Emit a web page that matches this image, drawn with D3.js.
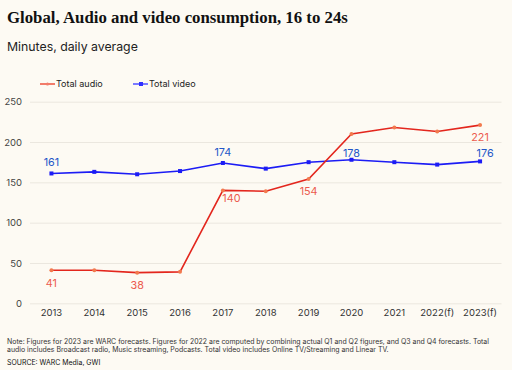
<!DOCTYPE html>
<html><head><meta charset="utf-8">
<script src="https://cdn.jsdelivr.net/npm/d3@7"></script>
<style>
html,body{margin:0;padding:0;background:#fdfaf3;}
svg{display:block;}
</style></head>
<body>
<svg id="c" width="512" height="370"></svg>
<script>
const categories = ["2013","2014","2015","2016","2017","2018","2019","2020","2021","2022(f)","2023(f)"];
const audio = [41, 41, 38, 39, 140, 139, 154, 210, 218, 213, 221];
const video = [161, 163, 160, 164, 174, 167, 175, 178, 175, 172, 176];
const yTicks = [0, 50, 100, 150, 200, 250];
const audioLabels = {"2013":"41","2015":"38","2017":"140","2019":"154","2023(f)":"221"};
const videoLabels = {"2013":"161","2017":"174","2020":"178","2023(f)":"176"};

const svg = d3.select("#c");
const x = d3.scaleBand().domain(categories).range([30, 501.5]);
const cx = d => x(d) + x.bandwidth()/2;
const y = d3.scaleLinear().domain([0, 250]).range([303.3, 101.7]);

// title
svg.append("text").attr("x",7).attr("y",22.5)
  .attr("font-family","Liberation Serif, serif").attr("font-weight","bold")
  .attr("font-size",16.8).attr("fill","#111").text("Global, Audio and video consumption, 16 to 24s");
svg.append("text").attr("x",7).attr("y",51)
  .attr("font-family","Inter, sans-serif").attr("font-size",12.3).attr("fill","#222").text("Minutes, daily average");

// grid
const yAxis = d3.axisLeft(y).tickValues(yTicks).tickSize(-(501.5-30)).tickPadding(8);
const gy = svg.append("g").attr("transform","translate(30,0)").call(yAxis);
gy.select(".domain").remove();
gy.selectAll(".tick line").attr("stroke","#ebe7df").attr("stroke-width",1);
gy.selectAll(".tick text").attr("font-family","Inter, sans-serif").attr("font-size",9.5).attr("fill","#444").attr("x",-8);

const xAxis = d3.axisBottom(x).tickSize(0).tickPadding(6);
const gx = svg.append("g").attr("transform","translate(0,303.3)").call(xAxis);
gx.select(".domain").remove();
gx.selectAll(".tick text").attr("font-family","Inter, sans-serif").attr("font-size",9.5).attr("fill","#333");

// legend
const lg = svg.append("g").attr("font-family","Inter, sans-serif").attr("font-size",9).attr("fill","#222");
lg.append("line").attr("x1",40).attr("x2",55).attr("y1",84).attr("y2",84).attr("stroke","#f27c6a").attr("stroke-width",2);
lg.append("circle").attr("cx",47.5).attr("cy",84).attr("r",1.6).attr("fill","#f27c6a");
lg.append("text").attr("x",56).attr("y",87.3).text("Total audio");
lg.append("line").attr("x1",133).attr("x2",148).attr("y1",84).attr("y2",84).attr("stroke","#7a7aff").attr("stroke-width",2);
lg.append("rect").attr("x",139).attr("y",82).attr("width",4).attr("height",4).attr("fill","#3030ff");
lg.append("text").attr("x",149).attr("y",87.3).text("Total video");

const line = d3.line().x((d,i)=>cx(categories[i])).y(d=>y(d));

svg.append("path").datum(video).attr("d",line).attr("fill","none").attr("stroke","#1c1cf5").attr("stroke-width",1.6);
svg.append("g").selectAll("rect").data(video).join("rect")
  .attr("x",(d,i)=>cx(categories[i])-2).attr("y",d=>y(d)-2).attr("width",4).attr("height",4).attr("fill","#1c1cf5");

svg.append("path").datum(audio).attr("d",line).attr("fill","none").attr("stroke","#e3261d").attr("stroke-width",1.6);
svg.append("g").selectAll("circle").data(audio).join("circle")
  .attr("cx",(d,i)=>cx(categories[i])).attr("cy",d=>y(d)).attr("r",2).attr("fill","#f27a4e");

// labels
const lf = "Inter, sans-serif";
const vOff = {"2013":-7,"2017":-7,"2020":-3,"2023(f)":-4};
const vDx = {"2023(f)":5};
const aOff = {"2013":17,"2015":16,"2017":11.5,"2019":16,"2023(f)":16};
const aDx = {"2017":8.5};
categories.forEach((c,i)=>{
  if (videoLabels[c]) {
    svg.append("text").attr("x",cx(c) + (vDx[c]||0)).attr("y",y(video[i])+vOff[c])
      .attr("text-anchor","middle").attr("font-family",lf).attr("font-size",10.8).attr("fill","#2356c8").text(videoLabels[c]);
  }
  if (audioLabels[c]) {
    svg.append("text").attr("x",cx(c)+(aDx[c]||0)).attr("y",y(audio[i])+aOff[c])
      .attr("text-anchor","middle").attr("font-family",lf).attr("font-size",10.8).attr("fill","#ec5a4e").text(audioLabels[c]);
  }
});

// notes
const nt = svg.append("g").attr("font-family","Inter, sans-serif").attr("font-size",6.95).attr("fill","#333");
nt.append("text").attr("x",7).attr("y",344).text("Note: Figures for 2023 are WARC forecasts. Figures for 2022 are computed by combining actual Q1 and Q2 figures, and Q3 and Q4 forecasts. Total");
nt.append("text").attr("x",7).attr("y",352).text("audio includes Broadcast radio, Music streaming, Podcasts. Total video includes Online TV/Streaming and Linear TV.");
svg.append("text").attr("x",7).attr("y",365).attr("font-family","Inter, sans-serif").attr("font-size",6.95).attr("fill","#111").text("SOURCE: WARC Media, GWI");
</script>
</body></html>
